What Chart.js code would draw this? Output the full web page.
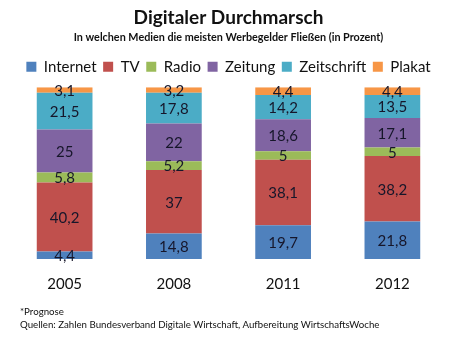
<!DOCTYPE html>
<html>
<head>
<meta charset="utf-8">
<script src="https://cdn.jsdelivr.net/npm/chart.js@4"></script>
<style>
  html, body { margin: 0; padding: 0; background: #fff; }
  #wrap { position: relative; width: 459px; height: 354px; }
  .note { position: absolute; left: 20px; font: 9.7px Lato, sans-serif; color: #111; white-space: nowrap; }
</style>
</head>
<body>
<div id="wrap">
  <canvas id="chart" width="459" height="354"></canvas>
  <div class="note" style="top:305px">*Prognose</div>
  <div class="note" style="top:318px">Quellen: Zahlen Bundesverband Digitale Wirtschaft, Aufbereitung WirtschaftsWoche</div>
</div>
<script>
// years on the x axis
const years = ['2005', '2008', '2011', '2012'];

// share of ad spending per medium, in percent
const internet    = [4.4, 14.8, 19.7, 21.8];
const tv          = [40.2, 37, 38.1, 38.2];
const radio       = [5.8, 5.2, 5, 5];
const zeitung     = [25, 22, 18.6, 17.1];
const zeitschrift = [21.5, 17.8, 14.2, 13.5];
const plakat      = [3.1, 3.2, 4.4, 4.4];

const seriesNames = ['Internet', 'TV', 'Radio', 'Zeitung', 'Zeitschrift', 'Plakat'];
const seriesData = [internet, tv, radio, zeitung, zeitschrift, plakat];
const seriesColors = ['#4F81BD', '#C0504D', '#9BBB59', '#8064A2', '#4BACC6', '#F79646'];

// write the value in the middle of every segment
const valueLabels = {
  id: 'valueLabels',
  afterDatasetsDraw(chart) {
    const ctx = chart.ctx;
    ctx.save();
    ctx.font = '15px Lato, sans-serif';
    ctx.fillStyle = '#16162a';
    ctx.textAlign = 'center';
    ctx.textBaseline = 'middle';
    chart.data.datasets.forEach((ds, i) => {
      chart.getDatasetMeta(i).data.forEach((bar, j) => {
        const p = bar.getProps(['x', 'y', 'base'], true);
        ctx.fillText(String(ds.data[j]).replace('.', ','), p.x, (p.y + p.base) / 2 + 1);
      });
    });
    ctx.restore();
  }
};

// a bit more room under the legend
const legendGap = {
  id: 'legendGap',
  beforeInit(chart) {
    const fit = chart.legend.fit;
    chart.legend.fit = function () {
      fit.bind(chart.legend)();
      this.height += 3;
    };
  }
};

const ctx = document.getElementById('chart').getContext('2d');
new Chart(ctx, {
  type: 'bar',
  data: {
    labels: years,
    datasets: seriesNames.map((name, i) => ({
      label: name,
      data: seriesData[i],
      backgroundColor: seriesColors[i],
      borderWidth: 0
    }))
  },
  options: {
    responsive: false,
    animation: false,
    layout: { padding: { left: 10, right: 12, top: 0, bottom: 53 } },
    datasets: { bar: { categoryPercentage: 1, barPercentage: 0.51 } },
    plugins: {
      title: {
        display: true,
        text: 'Digitaler Durchmarsch',
        font: { family: 'Lato', size: 19, weight: 'bold' },
        color: '#111',
        padding: { top: 6, bottom: 2 }
      },
      subtitle: {
        display: true,
        text: 'In welchen Medien die meisten Werbegelder Fließen (in Prozent)',
        font: { family: 'Lato', size: 10.8, weight: 'bold' },
        color: '#111',
        padding: { bottom: 9 }
      },
      legend: {
        labels: {
          font: { family: 'Lato', size: 15 },
          color: '#111',
          boxWidth: 10,
          boxHeight: 10,
          padding: 6.6
        }
      },
      tooltip: { enabled: false }
    },
    scales: {
      x: {
        stacked: true,
        grid: { display: false },
        border: { display: false },
        ticks: { font: { family: 'Lato', size: 15 }, color: '#111', padding: 8 }
      },
      y: {
        stacked: true,
        display: false,
        min: 0,
        max: 100
      }
    }
  },
  plugins: [valueLabels, legendGap]
});
</script>
</body>
</html>
